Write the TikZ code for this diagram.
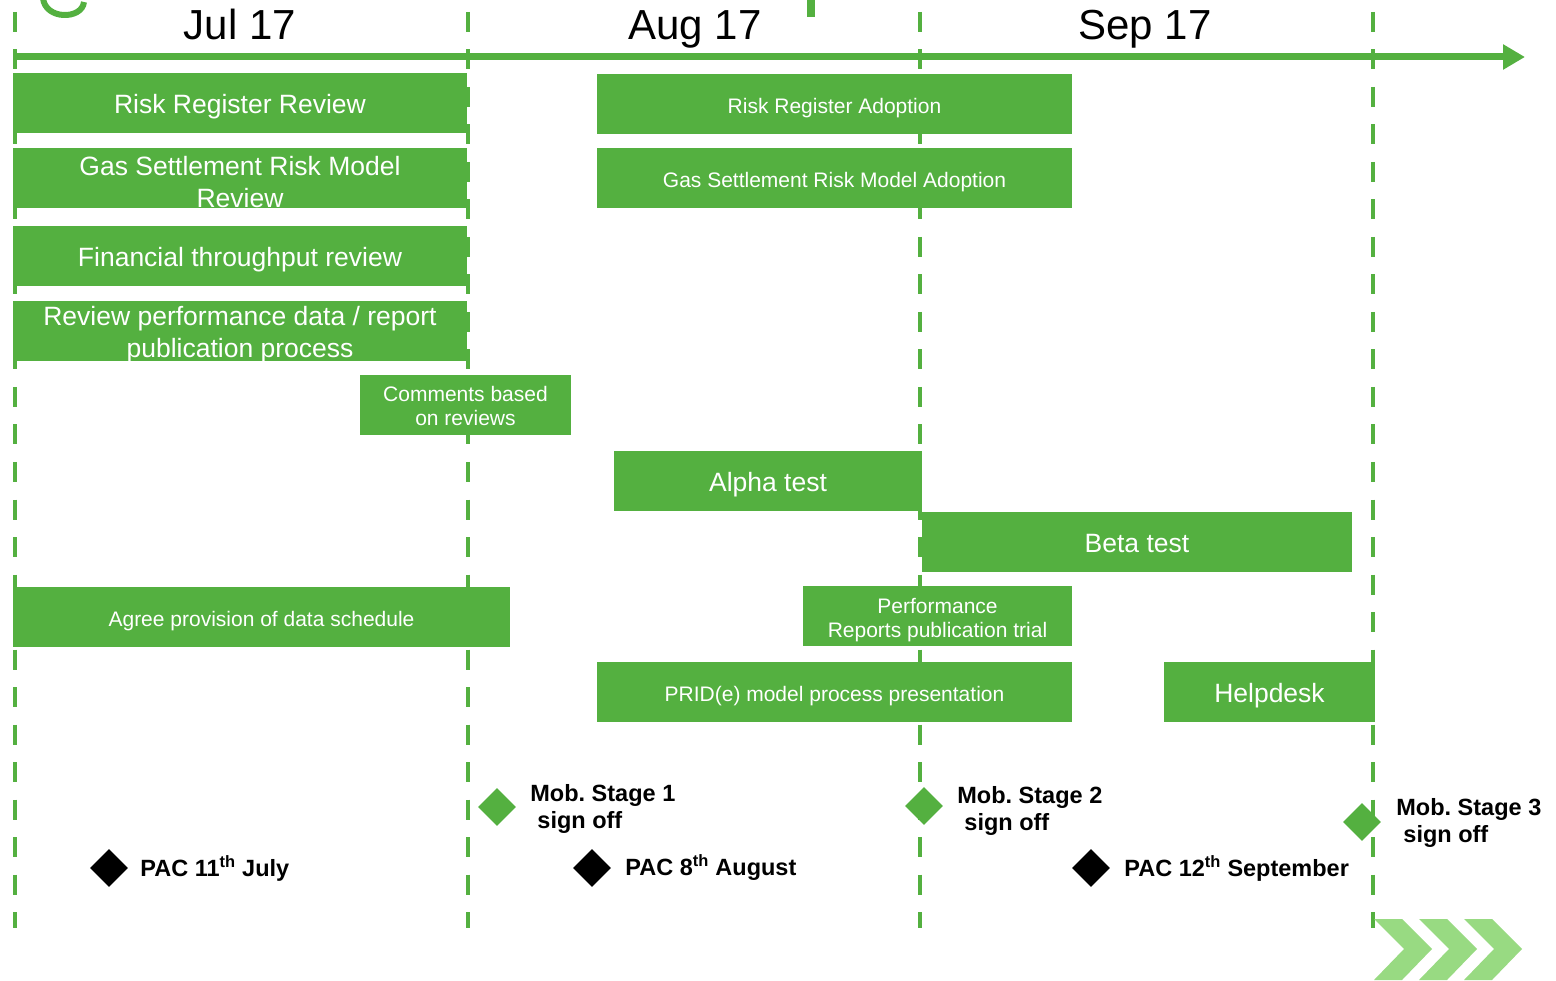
\documentclass[tikz,border=0pt]{standalone}
\usepackage{fontspec}
\setmainfont{Liberation Sans}
\usepackage{tikz}
\usetikzlibrary{shapes.geometric, arrows.meta, positioning}
\usepackage{xcolor}
\definecolor{gantgreen}{RGB}{84,176,64}
\definecolor{chevgreen}{RGB}{152,218,130}
\newcommand{\thsup}{\textsuperscript{th}}
\frenchspacing

\begin{document}
\begin{tikzpicture}[x=1pt, y=-1pt]
        \tikzstyle{bar}=[fill=gantgreen, inner sep=0pt, minimum height=60]
        \tikzstyle{bartxt}=[text=white, align=center, inner sep=0pt, yshift=-4]
        \tikzstyle{bigtxt}=[bartxt, font=\fontsize{26.5}{32}\selectfont]
        \tikzstyle{smalltxt}=[bartxt, font=\fontsize{21}{24}\selectfont]
        \tikzstyle{month}=[anchor=base, font=\fontsize{42}{46}\selectfont]
        \tikzstyle{stage}=[diamond, fill=gantgreen, inner sep=0pt, minimum size=38]
        \tikzstyle{pac}=[diamond, fill=black, inner sep=0pt, minimum size=38]
        \tikzstyle{mlabel}=[font=\fontsize{23.5}{27}\selectfont\bfseries, align=left, inner sep=0pt]

        \useasboundingbox (0,0) rectangle (1556,981);

        % Cut off pieces of the title
        \draw[gantgreen, line width=6] (43,-2) .. controls (45,20) and (82,20) .. (84,2);
        \fill[gantgreen] (807,0) rectangle (815,17);

        % Month dividers
        \foreach \xm in {15,468,920,1373}
            \draw[gantgreen, line width=4.5, dash pattern=on 20 off 17.5] (\xm,12) -- (\xm,928);

        % Time axis
        \coordinate (tstart) at (13,57);
        \coordinate (tend) at (1525,57);
        \draw[gantgreen, line width=7, -{Triangle[length=22,width=24]}] (tstart) -- (tend);

        % Months
        \node[month] (jul) at (240,40) {Jul 17};
        \node[month] (aug) at (695,40) {Aug 17};
        \node[month] (sep) at (1145,40) {Sep 17};

        % July tasks
        \node[bar, minimum width=454, label={[bigtxt]center:Risk Register Review}] (rrr) at (240,103) {};
        \node[bar, minimum width=454, label={[bigtxt]center:Gas Settlement Risk Model\\Review}] (gsr) at (240,178) {};
        \node[bar, minimum width=454, label={[bigtxt]center:Financial throughput review}] (ftr) at (240,256) {};
        \node[bar, minimum width=454, label={[bigtxt]center:Review performance data / report\\publication process}] (rpd) at (240,331) {};
        \node[bar, minimum width=211, label={[smalltxt, yshift=3]center:Comments based\\on reviews}] (cbr) at (465.5,405) {};
        \node[bar, minimum width=497, label={[smalltxt]center:Agree provision of data schedule}] (apd) at (261.5,617) {};

        % August and September tasks
        \node[bar, minimum width=475, label={[smalltxt]center:Risk Register Adoption}] (rra) at (834.5,104) {};
        \node[bar, minimum width=475, label={[smalltxt]center:Gas Settlement Risk Model Adoption}] (gsa) at (834.5,178) {};
        \node[bar, minimum width=308, label={[bigtxt]center:Alpha test}] (alpha) at (768,481) {};
        \node[bar, minimum width=430, label={[bigtxt, yshift=2]center:Beta test}] (beta) at (1137,541.5) {};
        \node[bar, minimum width=269, label={[smalltxt]center:Performance\\Reports publication trial}] (prt) at (937.5,616) {};
        \node[bar, minimum width=475, label={[smalltxt]center:PRID(e) model process presentation}] (prid) at (834.5,692) {};
        \node[bar, minimum width=211, label={[bigtxt]center:Helpdesk}] (help) at (1269.5,692) {};

        % Mobilisation milestones
        \node[stage] (ms1) at (497,807) {};
        \node[stage] (ms2) at (924,806) {};
        \node[stage] (ms3) at (1362,822) {};
        \node[mlabel, right=14 of ms1.east, yshift=-2] (ms1l) {Mob. Stage 1\\\hspace{0.3em}sign off};
        \node[mlabel, right=14 of ms2.east, yshift=-5] (ms2l) {Mob. Stage 2\\\hspace{0.3em}sign off};
        \node[mlabel, right=15 of ms3.east, yshift=-1] (ms3l) {Mob. Stage 3\\\hspace{0.3em}sign off};

        % PAC meetings
        \node[pac] (pac1) at (109,868) {};
        \node[pac] (pac2) at (592,868) {};
        \node[pac] (pac3) at (1091,868) {};
        \node[mlabel, right=12 of pac1.east] (pac1l) {PAC 11\thsup{} July};
        \node[mlabel, right=14 of pac2.east] (pac2l) {PAC 8\thsup{} August};
        \node[mlabel, right=14 of pac3.east] (pac3l) {PAC 12\thsup{} September};

        % Chevrons
        \foreach \xc in {1374,1419,1464}
            \fill[chevgreen] (\xc,919) -- ++(28,0) -- ++(30,30) -- ++(-30,31) -- ++(-28,0) -- ++(30,-31) -- cycle;
    \end{tikzpicture}
\end{document}
